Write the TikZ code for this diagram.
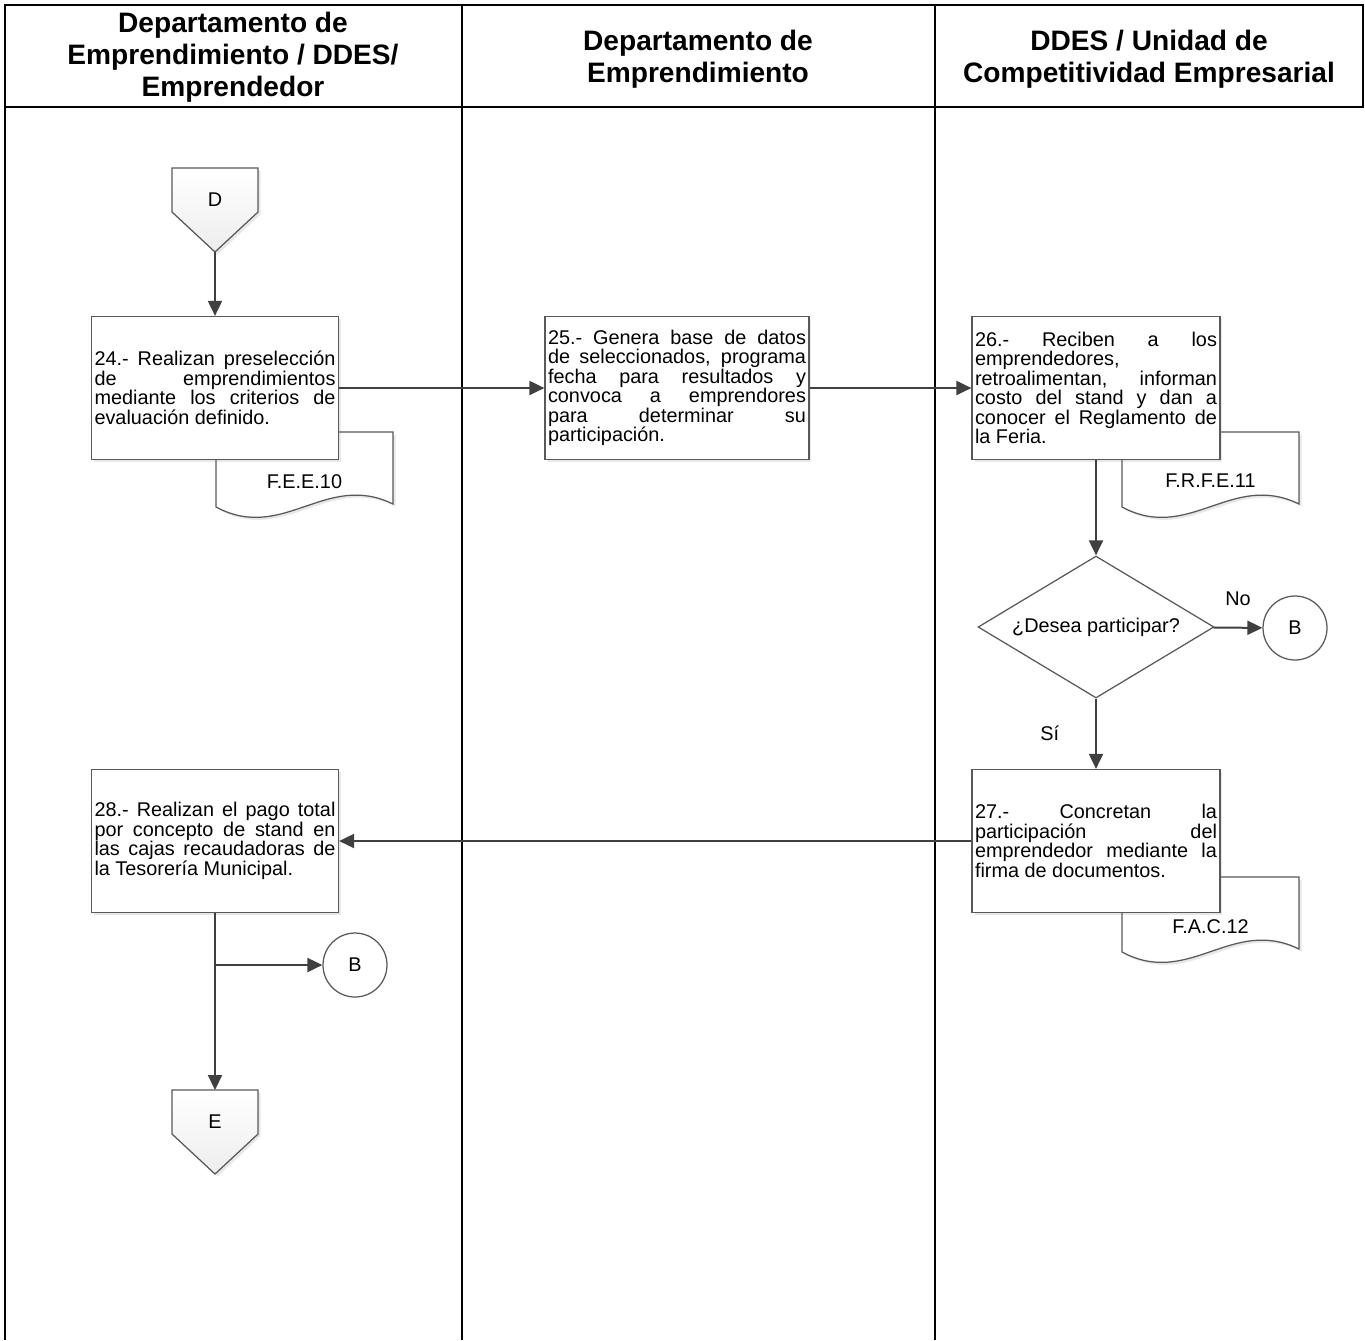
\documentclass[tikz,border=0pt]{standalone}
\usepackage{fontspec}
\setmainfont{Liberation Sans}
\usetikzlibrary{arrows.meta,shapes.geometric,shadows}

\definecolor{lineclr}{HTML}{404040}
\definecolor{boxclr}{HTML}{595959}

% off-page connector: name, x, y, letter
\newcommand{\offpage}[4]{%
  \draw[offpg] (#2-43,#3-32) -- (#2+43,#3-32) -- (#2+43,#3+12) -- (#2,#3+52) -- (#2-43,#3+12) -- cycle;
  \coordinate (#1-top) at (#2,#3-32);
  \coordinate (#1-tip) at (#2,#3+52);
  \node[txt] (#1) at (#2,#3) {#4};
}
% document shape: name, left, right, top, bottom, label y, label
\newcommand{\docshape}[7]{%
  \draw[docsh] (#2,#5) -- (#2,#4) -- (#3,#4) -- (#3,#5-3)
    .. controls ({#2+0.62*(#3-#2)},#5-36) and ({#2+0.38*(#3-#2)},#5+36) .. (#2,#5) -- cycle;
  \node[txt] (#1) at ({(#2+#3)/2},#6) {#7};
}

\begin{document}
\begin{tikzpicture}[x=0.02cm,y=-0.02cm,
  lane/.style={draw=black,line width=0.03cm},
  head/.style={align=center,font=\fontsize{16}{18.2}\selectfont\bfseries},
  txt/.style={font=\fontsize{11.3}{11.1}\selectfont},
  proc/.style={txt,draw=boxclr,line width=0.025cm,fill=white,align=justify,inner sep=0.06cm,
    minimum height=2.86cm,drop shadow={shadow xshift=0.05cm,shadow yshift=-0.05cm,opacity=0.18}},
  offpg/.style={draw=boxclr,line width=0.025cm,top color=white,bottom color=black!7,
    drop shadow={shadow xshift=0.05cm,shadow yshift=-0.05cm,opacity=0.18}},
  docsh/.style={draw=boxclr,line width=0.025cm,fill=white,
    drop shadow={shadow xshift=0.05cm,shadow yshift=-0.05cm,opacity=0.18}},
  decision/.style={txt,diamond,draw=boxclr,line width=0.025cm,fill=white,inner sep=0pt,
    minimum width=4.72cm,minimum height=2.84cm,aspect=1.66},
  connector/.style={txt,circle,draw=boxclr,line width=0.025cm,fill=white,minimum size=1.28cm},
  flow/.style={draw=lineclr,line width=0.04cm,-{Triangle[length=0.3cm,width=0.28cm]}}]
\useasboundingbox (0,0) rectangle (1365,1340);

% swimlanes
\draw[lane,line width=0.05cm] (5,5) rectangle (1363,107);
\draw[lane] (5,5) -- (5,1340);
\draw[lane] (462,5) -- (462,1340);
\draw[lane] (935,5) -- (935,1340);
\node[head] (h1) at (233,57) {Departamento de\\Emprendimiento / DDES/\\Emprendedor};
\node[head] (h2) at (698,59) {Departamento de\\Emprendimiento};
\node[head] (h3) at (1149,59) {DDES / Unidad de\\Competitividad Empresarial};

% documents go under the boxes
\docshape{d10}{216}{393}{432}{507}{482}{F.E.E.10}
\docshape{d11}{1122}{1299}{432}{507}{481}{F.R.F.E.11}
\docshape{d12}{1122}{1299}{877}{952}{927}{F.A.C.12}

\offpage{D}{215}{200}{D}
\offpage{E}{215}{1122}{E}

\node[proc,text width=4.82cm] (b24) at (215,388)
  {24.- Realizan preselección\linebreak de emprendimientos\linebreak mediante los criterios de\linebreak evaluación definido.};
\node[proc,text width=5.16cm] (b25) at (677,388)
  {25.- Genera base de datos\linebreak de seleccionados, programa\linebreak fecha para resultados y\linebreak convoca a emprendores\linebreak para determinar su\linebreak participación.};
\node[proc,text width=4.84cm] (b26) at (1096,388)
  {26.- Reciben a los\linebreak emprendedores,\linebreak retroalimentan, informan\linebreak costo del stand y dan a\linebreak conocer el Reglamento de\linebreak la Feria.};
\node[decision] (q) at (1096,627) {¿Desea participar?};
\node[connector] (B1) at (1295,628) {B};
\node[proc,text width=4.84cm] (b27) at (1096,841)
  {27.- Concretan la\linebreak participación del\linebreak emprendedor mediante la\linebreak firma de documentos.};
\node[proc,text width=4.82cm] (b28) at (215,841)
  {28.- Realizan el pago total\linebreak por concepto de stand en\linebreak las cajas recaudadoras de\linebreak la Tesorería Municipal.};
\node[connector] (B2) at (355,965) {B};
\coordinate (split) at (b28.south |- B2);

\draw[flow] (D-tip) -- (b24);
\draw[flow] (b24) -- (b25);
\draw[flow] (b25) -- (b26);
\draw[flow] (b26) -- (q);
\draw[flow] (q) -- node[txt,above=0.3cm] {No} (B1);
\draw[flow] (q) -- node[txt,left=0.6cm] {Sí} (b27);
\draw[flow] (b27) -- (b28);
\draw[flow] (b28) -- (E-top);
\draw[flow] (split) -- (B2);

\end{tikzpicture}
\end{document}
